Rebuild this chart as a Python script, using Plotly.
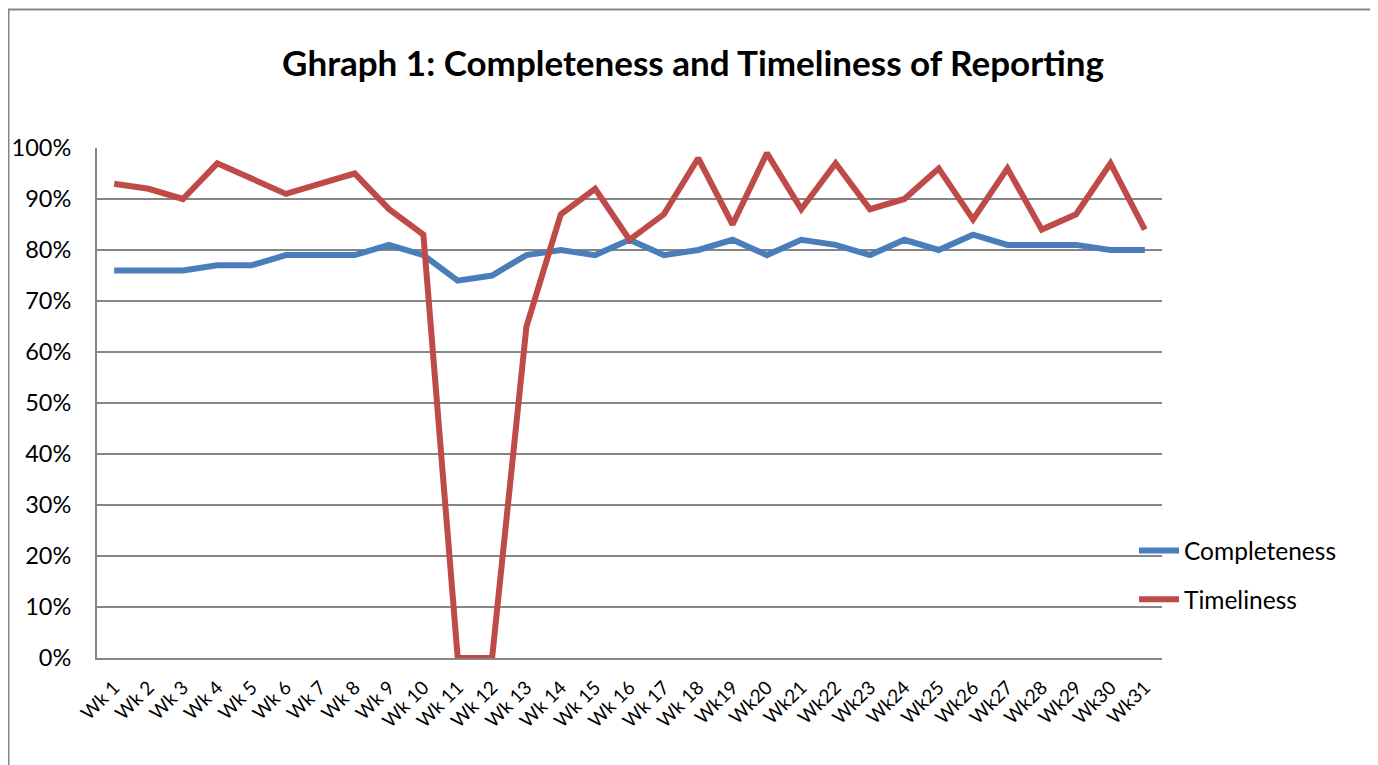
import plotly.graph_objects as go

weeks = ["Wk 1", "Wk 2", "Wk 3", "Wk 4", "Wk 5", "Wk 6", "Wk 7", "Wk 8", "Wk 9", "Wk 10",
         "Wk 11", "Wk 12", "Wk 13", "Wk 14", "Wk 15", "Wk 16", "Wk 17", "Wk 18", "Wk19", "Wk20",
         "Wk21", "Wk22", "Wk23", "Wk24", "Wk25", "Wk26", "Wk27", "Wk28", "Wk29", "Wk30", "Wk31"]

completeness = [0.76, 0.76, 0.76, 0.77, 0.77, 0.79, 0.79, 0.79, 0.81, 0.79,
                0.74, 0.75, 0.79, 0.80, 0.79, 0.82, 0.79, 0.80, 0.82, 0.79,
                0.82, 0.81, 0.79, 0.82, 0.80, 0.83, 0.81, 0.81, 0.81, 0.80, 0.80]

timeliness = [0.93, 0.92, 0.90, 0.97, 0.94, 0.91, 0.93, 0.95, 0.88, 0.83,
              0.00, 0.00, 0.65, 0.87, 0.92, 0.82, 0.87, 0.98, 0.85, 0.99,
              0.88, 0.97, 0.88, 0.90, 0.96, 0.86, 0.96, 0.84, 0.87, 0.97, 0.84]

y_ticks = [0, 0.1, 0.2, 0.3, 0.4, 0.5, 0.6, 0.7, 0.8, 0.9, 1.0]

# the page body adds an 8px offset; work in reference pixel coords minus that offset
OFF = 8
W, H = 1378 - OFF, 765 - OFF
L, R, T, B = 97 - OFF, 1162 - OFF, 148 - OFF, 658 - OFF

fig = go.Figure()
fig.add_trace(go.Scatter(x=weeks, y=completeness, mode="lines", name="Completeness",
                         legendgroup="c",
                         line=dict(color="#4A7EBB", width=6)))
fig.add_trace(go.Scatter(x=weeks, y=timeliness, mode="lines", name="Timeliness",
                         legendgroup="t",
                         line=dict(color="#BE4B48", width=6)))

def px(x):
    return (x - OFF - L) / (R - L)

def py(y):
    return (B - (y - OFF)) / (B - T)

fig.update_layout(
    width=W, height=H,
    margin=dict(l=L, r=W - R, t=T, b=H - B, autoexpand=False),
    paper_bgcolor="white", plot_bgcolor="white",
    font=dict(family="Lato, Carlito, Calibri, sans-serif", color="black"),
    title=dict(text="<b>Ghraph 1: Completeness and Timeliness of Reporting</b>",
               x=0.5, xref="container", xanchor="center",
               y=1 - (64 - OFF) / H, yref="container", yanchor="middle",
               font=dict(size=35, color="black")),
    showlegend=True,
    legend=dict(x=px(1134), xanchor="left", y=py(575), yanchor="middle",
                bgcolor="rgba(0,0,0,0)", font=dict(size=24.5, color="black"),
                tracegroupgap=14, itemwidth=40),
    xaxis=dict(type="category", range=[-0.5, len(weeks) - 0.5], automargin=False,
               showline=True, linecolor="#868686", linewidth=2,
               showgrid=False, ticks="", tickangle=-45,
               tickfont=dict(size=19, color="black"), ticklabelstandoff=9),
    yaxis=dict(range=[0, 1], tickvals=y_ticks, tickformat=".0%", automargin=False,
               showline=True, linecolor="#868686", linewidth=2,
               showgrid=True, gridcolor="#868686", gridwidth=1.5,
               zeroline=False, ticks="",
               tickfont=dict(size=23.5, color="black"), ticklabelstandoff=19),
)

# outer chart border
fig.add_shape(type="rect", xref="paper", yref="paper",
              x0=px(8.5), x1=px(1376.5), y0=py(800), y1=py(9.5),
              line=dict(color="#868686", width=2), fillcolor="rgba(0,0,0,0)",
              layer="below")

fig.write_html("out.html")
